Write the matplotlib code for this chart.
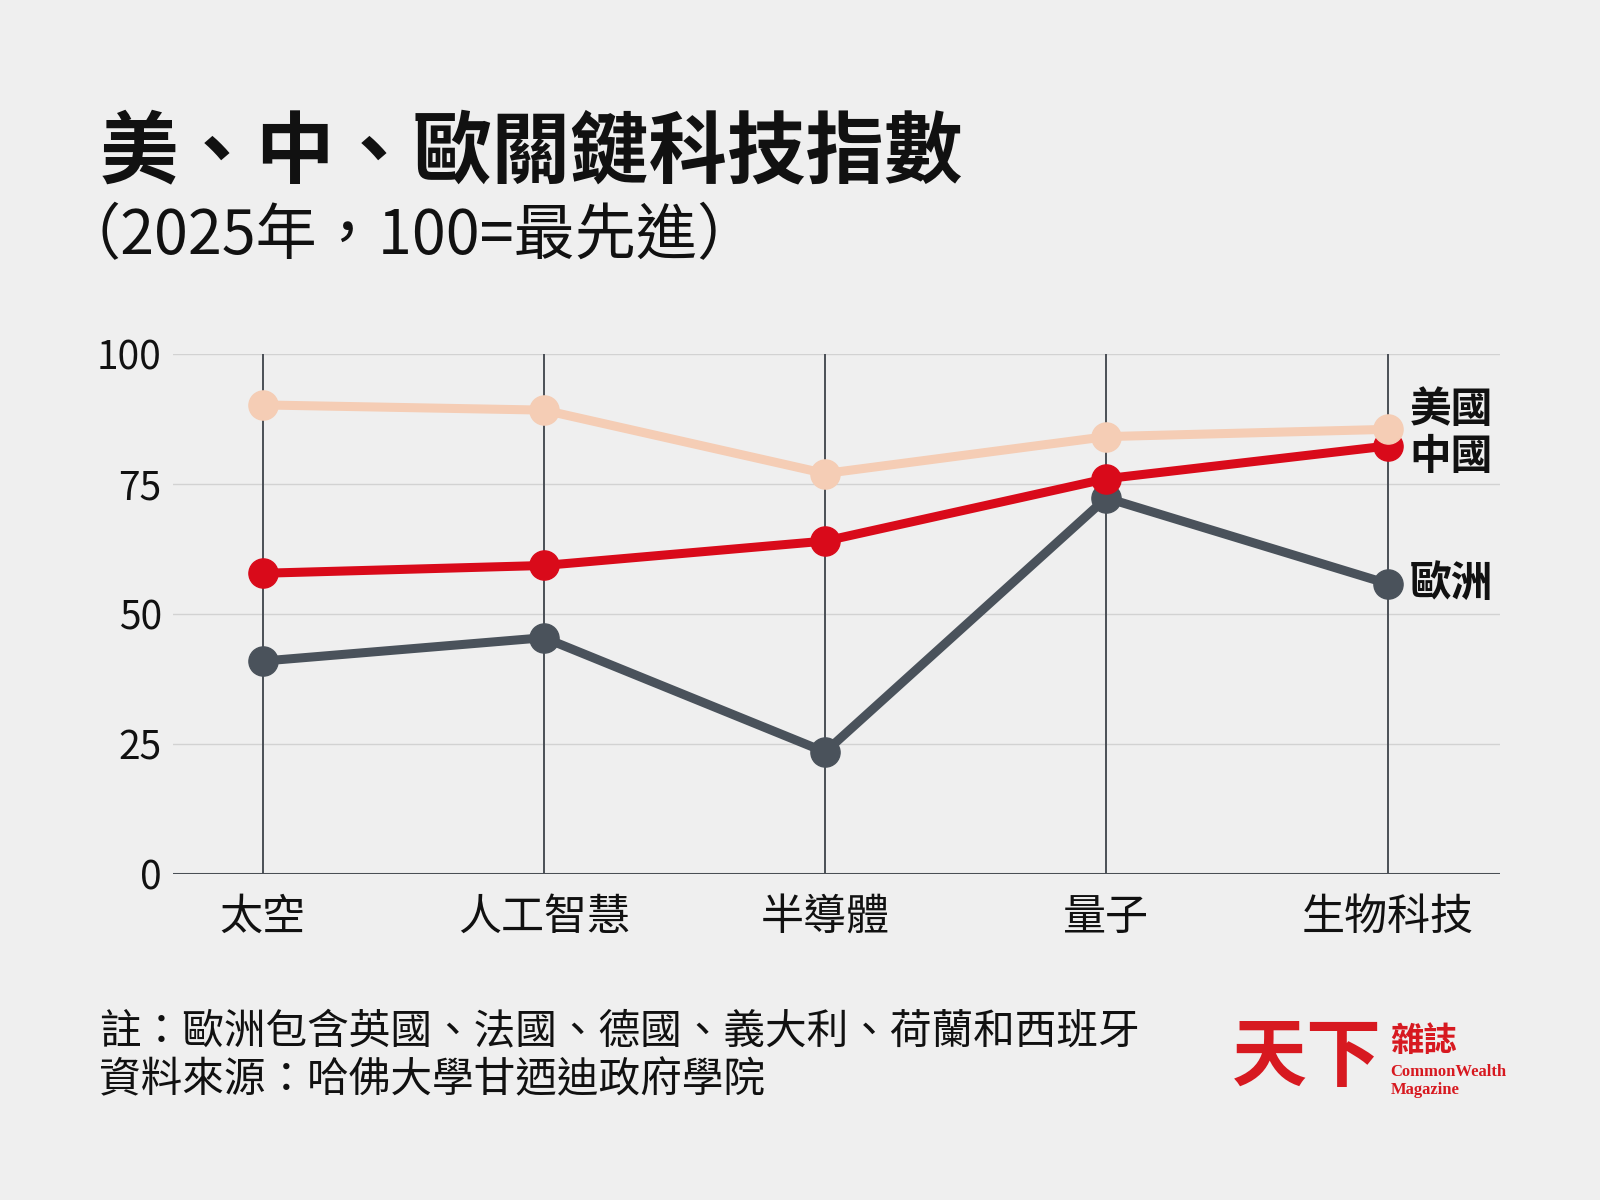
import matplotlib
matplotlib.use("Agg")
import matplotlib.pyplot as plt
import numpy as np

plt.rcParams['font.family'] = ['Noto Sans CJK TC', 'DejaVu Sans']

# data
categories = ['太空', '人工智慧', '半導體', '量子', '生物科技']
usa = [90.2, 89.2, 77.0, 84.1, 85.5]
china = [57.8, 59.3, 64.0, 76.0, 82.3]
europe = [40.9, 45.4, 23.4, 72.3, 55.8]
yticks = [0, 25, 50, 75, 100]

title = '美、中、歐關鍵科技指數'
subtitle = '（2025年，100=最先進）'
note = '註：歐洲包含英國、法國、德國、義大利、荷蘭和西班牙'
source = '資料來源：哈佛大學甘迺迪政府學院'

bg = '#efefef'
c_usa = '#f5cdb5'
c_china = '#d90a1a'
c_eu = '#4a525b'
dark = '#4a4f55'
red_logo = '#d71920'

fig = plt.figure(figsize=(16, 12), dpi=100, facecolor=bg)
ax = fig.add_axes([0.108, 0.272, 0.8295, 0.433])
ax.set_facecolor(bg)

x = np.arange(len(categories))
ax.set_xlim(-0.32, 4.40)
ax.set_ylim(0, 100)

# grid
for t in yticks[1:]:
    ax.axhline(t, color='#d2d2d2', lw=1.0, zorder=1)
for xi in x:
    ax.plot([xi, xi], [0, 100], color=dark, lw=1.4, zorder=2)
ax.axhline(0, color=dark, lw=2.2, zorder=3)

# series, europe at bottom, usa on top
ax.plot(x, europe, color=c_eu, lw=6.5, marker='o', ms=21, zorder=4, clip_on=False)
ax.plot(x, china, color=c_china, lw=6.5, marker='o', ms=21, zorder=5, clip_on=False)
ax.plot(x, usa, color=c_usa, lw=6.5, marker='o', ms=21, zorder=6, clip_on=False)

# end labels
lab_kw = dict(textcoords='offset points', ha='left', va='center', fontsize=30,
              fontweight='bold', color='#111111')
ax.annotate('美國', (x[-1], usa[-1]), xytext=(16, 14), **lab_kw)
ax.annotate('中國', (x[-1], china[-1]), xytext=(16, -8), **lab_kw)
ax.annotate('歐洲', (x[-1], europe[-1]), xytext=(16, 0), **lab_kw)

ax.set_xticks(x)
ax.set_xticklabels(categories, fontsize=31, color='#111111')
ax.set_yticks(yticks)
ax.set_yticklabels([str(t) for t in yticks], fontsize=28, color='#111111')
ax.tick_params(axis='x', length=0, pad=16)
ax.tick_params(axis='y', length=0, pad=8)
for s in ax.spines.values():
    s.set_visible(False)

# titles
fig.text(0.062, 0.853, title, fontsize=56.5, fontweight='bold', color='#111111',
         ha='left', va='baseline')
fig.text(0.037, 0.788, subtitle, fontsize=44, color='#111111',
         ha='left', va='baseline')

# footnotes
fig.text(0.062, 0.140, note, fontsize=30, color='#111111', ha='left', va='center')
fig.text(0.062, 0.099, source, fontsize=30, color='#111111', ha='left', va='center')

# logo
fig.text(0.770, 0.118, '天下', fontsize=54, fontweight='bold', color=red_logo,
         ha='left', va='center')
fig.text(0.869, 0.132, '雜誌', fontsize=24, fontweight='bold', color=red_logo,
         ha='left', va='center')
fig.text(0.869, 0.107, 'CommonWealth', fontsize=12, fontweight='bold', color=red_logo,
         ha='left', va='center', family='Liberation Serif')
fig.text(0.869, 0.092, 'Magazine', fontsize=12, fontweight='bold', color=red_logo,
         ha='left', va='center', family='Liberation Serif')

fig.savefig('out.png', dpi=100, facecolor=bg)
